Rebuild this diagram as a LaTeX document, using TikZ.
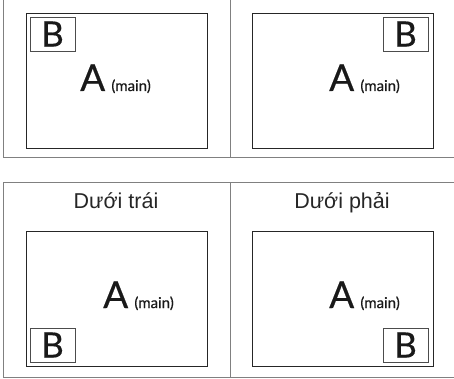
\documentclass[tikz,border=0pt]{standalone}
\usepackage{fontspec}
\setmainfont{Lato}[UprightFeatures={FakeBold=0.5}]
\newfontfamily\titlefont{Liberation Sans}
\usetikzlibrary{positioning}

\begin{document}
\begin{tikzpicture}[x=1pt, y=-1pt,
  frameline/.style={draw=black!50, line width=1pt},
  screen/.style={rectangle, draw=black!85, line width=0.8pt,
                 minimum width=181pt, minimum height=135pt, inner sep=0pt},
  subwin/.style={rectangle, draw=black!70, line width=0.8pt,
                 minimum width=45pt, minimum height=34pt, inner sep=0pt,
                 font=\fontsize{35}{35}\selectfont, text=black!90},
  mainlabel/.style={anchor=base west, inner sep=0pt, text=black!90,
                    font=\fontsize{37}{37}\selectfont},
  title/.style={anchor=base, inner sep=0pt, text=black!85,
                font=\titlefont\fontsize{21.5}{21.5}\selectfont}
]
  \useasboundingbox (0,0) rectangle (454,379);

  % frames
  \coordinate (topL) at (3.5,0);
  \coordinate (topM) at (230,0);
  \coordinate (topB) at (454,158);
  \coordinate (botT) at (454,183);
  \coordinate (botB) at (454,377);
  \draw[frameline] (topL) |- (topB);
  \draw[frameline] (topM) -- (topM |- topB);
  \draw[frameline] (botT) -| (topL |- botB) -- (botB);
  \draw[frameline] (topM |- botT) -- (topM |- botB);

  % screens
  \node[screen] (scrTL) at (116.5,80.5) {};
  \node[screen] (scrTR) at (342.5,80.5) {};
  \node[screen] (scrBL) at (116.5,298.5) {};
  \node[screen] (scrBR) at (342.5,298.5) {};

  % sub windows
  \node[subwin, anchor=north west] (subTL) at ([shift={(4,4)}]scrTL.north west) {B};
  \node[subwin, anchor=north east] (subTR) at ([shift={(-5,4)}]scrTR.north east) {B};
  \node[subwin, anchor=south west] (subBL) at ([shift={(4,-4)}]scrBL.south west) {B};
  \node[subwin, anchor=south east] (subBR) at ([shift={(-5,-4)}]scrBR.south east) {B};

  % main labels
  \node[mainlabel] (mainTL) at (80,91) {A\,{\fontsize{15}{15}\selectfont(main)}};
  \node[mainlabel] (mainTR) at (329,91) {A\,{\fontsize{15}{15}\selectfont(main)}};
  \node[mainlabel] (mainBL) at (103,308) {A\,{\fontsize{15}{15}\selectfont(main)}};
  \node[mainlabel] (mainBR) at (329,308) {A\,{\fontsize{15}{15}\selectfont(main)}};

  % titles
  \node[title] (ttlBL) at (116,208) {Dưới trái};
  \node[title] (ttlBR) at (342,208) {Dưới phải};
\end{tikzpicture}
\end{document}
